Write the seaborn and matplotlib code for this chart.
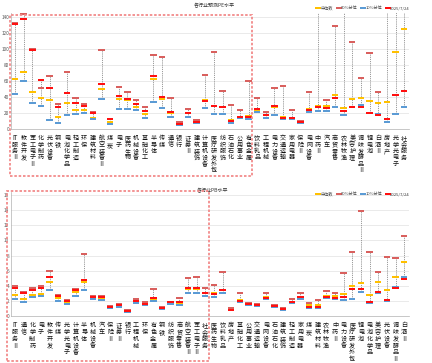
import numpy as np
import pandas as pd
import matplotlib
matplotlib.use('Agg')
import matplotlib.pyplot as plt
import seaborn as sns
from matplotlib.lines import Line2D
from matplotlib.patches import Rectangle

sns.set_theme(style='white')
plt.rcParams['font.family'] = ['Noto Sans CJK SC', 'DejaVu Sans']
plt.rcParams['axes.unicode_minus'] = False

# ---------------- data: PE panel ----------------
pe_categories = ['IT服务Ⅱ', '软件开发', '军工电子Ⅱ', '化学制药', '光伏设备', '钢铁', '电池化学品', '轻工制造',
                 '环保', '建筑材料', '航空装备Ⅱ', '煤炭', '电子', '医药生物', '机械设备', '基础化工', '半导体',
                 '传媒', '通信', '银行', '证券Ⅱ', '建筑装饰', '计算机设备', '医疗研发外包', '纺织服饰', '石油石化',
                 '公用事业', '有色金属', '饮料乳品', '工程机械', '电力设备', '交通运输', '家用电器', '保险Ⅱ',
                 '电网设备', '中药Ⅱ', '汽车', '商贸零售', '农林牧渔', '美容护理', '调味发酵品Ⅱ', '锂电池', '白酒Ⅱ',
                 '房地产', '光学光电子', '社会服务']
pe_p90 = [132, 144, 100, 51, 66, 31, 71, 39, 31, 21, 99, 13, 53, 46, 36, 27, 93, 90, 39, 8.5, 25, 11, 67, 96,
          47, 30, 24, 60, 39, 21, 51, 54, 24, 10, 46, 160, 36, 129, 170, 109, 64, 95, 46, 200, 180, 190]
pe_median = [62, 71, 46, 39, 36, 15, 32, 24, 24, 14, 50, 9, 37, 36, 27, 19, 62, 37, 20, 6, 20, 8.5, 36, 29,
             28, 11, 15, 16, 24, 17, 28, 15, 14, 8, 25, 29, 29, 42, 26, 37, 39, 35, 33, 34, 96, 125]
pe_p10 = [44, 60, 33, 29, 11, 7, 18, 19, 20, 12, 37, 6, 25, 25, 24, 14, 34, 26, 15, 5, 15, 7, 26, 19,
          19, 7, 14, 12, 21, 14, 18, 12, 13, 7, 21, 23, 22, 27, 17, 27, 30, 20, 19, 9, 19, 28]
pe_current = [131, 137, 99, 61, 51, 27, 45, 32, 29, 20, 56, 12, 41, 38, 31, 23, 66, 40, 21, 6.5, 20, 9, 35, 29,
              27, 10, 15, 15, 25, 17, 29, 14, 14, 9, 24, 27, 26, 39, 22, 28, 28, 20, 17, 12, 42, 47]

# ---------------- data: PB panel ----------------
pb_categories = ['IT服务Ⅱ', '通信', '化学制药', '电子', '软件开发', '传媒', '光学光电子', '计算机设备', '半导体',
                 '机械设备', '汽车', '保险Ⅱ', '证券Ⅱ', '银行', '工程机械', '环保', '有色金属', '钢铁', '纺织服饰',
                 '商贸零售', '航空装备Ⅱ', '军工电子Ⅱ', '社会服务', '医药生物', '饮料乳品', '房地产', '基础化工',
                 '公用事业', '交通运输', '电网设备', '石油石化', '建筑装饰', '轻工制造', '家用电器', '煤炭',
                 '建筑材料', '农林牧渔', '中药Ⅱ', '电力设备', '医疗研发外包', '锂电池', '电池化学品', '美容护理',
                 '光伏设备', '调味发酵品Ⅱ', '白酒Ⅱ']
pb_p90 = [3.9, 3.2, 3.7, 3.9, 6.0, 2.8, 2.1, 3.6, 8.2, 2.6, 2.6, 1.3, 1.6, 0.75, 2.2, 1.9, 3.6, 1.2, 1.9,
          2.4, 5.0, 5.1, 3.7, 4.1, 5.8, 1.0, 3.1, 1.7, 1.6, 3.0, 1.4, 1.0, 2.2, 3.1, 1.7, 2.1, 3.3, 3.0,
          5.7, 8.5, 13.9, 8.5, 5.8, 7.8, 7.7, 10.6]
pb_median = [2.8, 2.2, 2.8, 2.9, 4.5, 2.4, 1.8, 3.2, 4.5, 2.5, 2.4, 1.1, 1.4, 0.65, 1.9, 1.6, 2.3, 1.0, 1.8,
             1.7, 3.6, 3.6, 3.0, 3.0, 3.5, 0.9, 2.1, 1.6, 1.5, 2.5, 1.3, 0.9, 1.9, 2.4, 1.4, 1.4, 2.6, 2.6,
             2.9, 4.0, 4.4, 2.8, 4.5, 3.5, 5.1, 7.1]
pb_p10 = [2.2, 1.9, 2.5, 2.6, 3.4, 2.0, 1.6, 2.6, 3.4, 2.3, 2.1, 1.0, 1.2, 0.55, 1.7, 1.4, 2.0, 0.9, 1.6,
          1.4, 3.0, 3.0, 2.6, 2.5, 3.1, 0.8, 1.8, 1.5, 1.3, 2.2, 1.2, 0.8, 1.7, 2.3, 1.1, 1.1, 2.4, 2.3,
          2.1, 2.3, 3.2, 1.7, 3.1, 2.0, 3.8, 5.1]
pb_current = [3.7, 3.1, 3.5, 3.7, 5.1, 2.7, 2.0, 3.4, 4.8, 2.55, 2.5, 1.2, 1.4, 0.6, 2.0, 1.6, 2.4, 1.0, 1.8,
              1.9, 3.7, 3.7, 3.1, 2.9, 3.4, 0.85, 2.0, 1.65, 1.45, 2.4, 1.3, 0.9, 1.8, 2.5, 1.2, 1.2, 2.5, 2.4,
              2.5, 3.6, 3.6, 1.8, 3.2, 2.1, 3.7, 4.9]

series_names = ['中位数', '90%分位', '10%分位', '2025/7/24']
series_colors = ['#FFC000', '#D9605E', '#5B9BD5', '#FF1010']

pe_yticks = [0, 20, 40, 60, 80, 100, 120, 140]
pb_yticks = [0, 2, 4, 6, 8, 10, 12, 14, 16]

bar_marker = [(-1, -0.32), (1, -0.32), (1, 0.32), (-1, 0.32)]


def vertical(name):
    parts = []
    i = 0
    while i < len(name):
        if name[i:i + 2] == 'IT':
            parts.append('IT')
            i += 2
        else:
            parts.append(name[i])
            i += 1
    return '\n'.join(parts)


def draw_panel(ax, cats, med, p90, p10, cur, ymax, yticks, lsp):
    vals = [med, p90, p10, cur]
    df = pd.DataFrame({
        'cat': cats * 4,
        'value': med + p90 + p10 + cur,
        'series': np.repeat(series_names, len(cats)),
    })
    lo = np.minimum.reduce([np.array(v, float) for v in vals])
    hi = np.maximum.reduce([np.array(v, float) for v in vals])
    ax.vlines(np.arange(len(cats)), lo, hi, colors='#9a9a9a',
              linestyles=(0, (1.2, 1.0)), linewidth=0.7, zorder=1)
    sns.stripplot(data=df, x='cat', y='value', hue='series', hue_order=series_names,
                  palette=dict(zip(series_names, series_colors)), order=cats,
                  jitter=False, dodge=False, marker=bar_marker, size=4.6,
                  linewidth=0, legend=False, ax=ax, zorder=3)
    ax.set_ylim(0, ymax)
    ax.set_xlim(-0.5, len(cats) - 0.5)
    ax.set_yticks(yticks)
    ax.set_yticklabels([str(t) for t in yticks], fontsize=3.4, color='#555555')
    ax.set_xticks(np.arange(len(cats)))
    ax.set_xticklabels([vertical(c) for c in cats], fontsize=4.4, color='#111111',
                       linespacing=lsp, va='top', ha='center', fontweight='medium')
    ax.tick_params(axis='x', length=1.2, width=0.4, color='#999999', pad=2.5)
    ax.tick_params(axis='y', length=0, pad=1.2)
    ax.grid(axis='y', color='#e6e6e6', linewidth=0.6)
    ax.set_axisbelow(True)
    ax.set_xlabel('')
    ax.set_ylabel('')
    for s in ['top', 'right']:
        ax.spines[s].set_visible(False)
    for s in ['left', 'bottom']:
        ax.spines[s].set_color('#b0b0b0')
        ax.spines[s].set_linewidth(0.5)


W, H = 432, 363
fig = plt.figure(figsize=(W / 100, H / 100), dpi=100)
fig.patch.set_facecolor('white')

left_px, right_px = 10.7, 408.5
ax1 = fig.add_axes([left_px / W, 1 - 129 / H, (right_px - left_px) / W, (129 - 13) / H])
draw_panel(ax1, pe_categories, pe_median, pe_p90, pe_p10, pe_current, 145, pe_yticks, 0.74)

ax2 = fig.add_axes([left_px / W, 1 - 316 / H, (right_px - left_px) / W, (316 - 192) / H])
draw_panel(ax2, pb_categories, pb_median, pb_p90, pb_p10, pb_current, 16.4, pb_yticks, 0.8)

fig.text(214 / W, 1 - 5.5 / H, '各行业预测PE水平', ha='center', va='center', fontsize=3.6, color='#333333')
fig.text(213 / W, 1 - 191 / H, '各行业PB水平', ha='center', va='center', fontsize=3.6, color='#333333')

handles = [Line2D([0], [0], marker=bar_marker, linestyle='none', markersize=4.5,
                  markerfacecolor=c, markeredgewidth=0) for c in series_colors]
for ypix in (8, 194):
    fig.legend(handles, series_names, loc='center right', bbox_to_anchor=(412 / W, 1 - ypix / H),
               ncol=4, fontsize=3.0, frameon=False, handlelength=0.8, handletextpad=0.2,
               columnspacing=0.9, borderpad=0, labelcolor='#444444')

# highlighted regions (dashed red boxes)
box_kw = dict(fill=False, edgecolor='#F28B8B', linewidth=1.3, linestyle=(0, (1.4, 1.0)),
              transform=fig.transFigure, zorder=10)
fig.add_artist(Rectangle((10 / W, 1 - 176 / H), 242 / W, 161 / H, **box_kw))
fig.add_artist(Rectangle((7 / W, 1 - 361 / H), 202 / W, 170 / H, **box_kw))

fig.savefig('out.png', dpi=100, facecolor='white')
